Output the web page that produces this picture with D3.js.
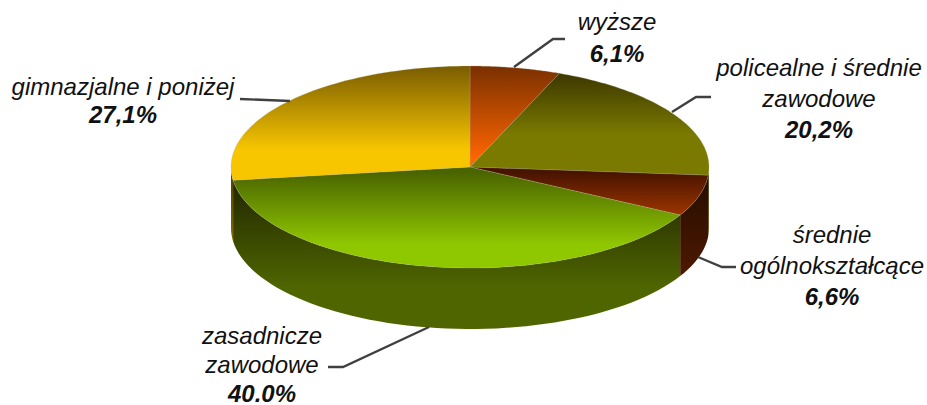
<!DOCTYPE html>
<html>
<head>
<meta charset="utf-8">
<script src="https://cdnjs.cloudflare.com/ajax/libs/d3/7.8.5/d3.min.js"></script>
<style>
  html, body { margin: 0; background: #fff; }
  text { font-family: "Liberation Sans", Arial, sans-serif; font-size: 24px; font-style: italic; fill: #111; }
  .val { font-weight: bold; }
</style>
</head>
<body>
<script>
// data
const categories = ['wyższe', 'policealne i średnie zawodowe', 'średnie ogólnokształcące', 'zasadnicze zawodowe', 'gimnazjalne i poniżej'];
const values = [6.1, 20.2, 6.6, 40.0, 27.1];
const valueLabels = ['6,1%', '20,2%', '6,6%', '40.0%', '27,1%'];

// layout
const w = 927, h = 405;
const cx = 470, cy = 167, rx = 239, ry = 101, depth = 61;

// top gradient [dark, light, y0, y1], wall gradient [dark, light]
const topFill = [
  ['#7a3000', '#ff6600', 66, 160],
  ['#3f3a00', '#7a7a00', 76, 135],
  ['#471400', '#993300', 172, 213],
  ['#4a6400', '#90c800', 172, 245],
  ['#7a5c00', '#f7c600', 66, 150]
];
const wallFill = [
  ['#7a3000', '#7a3000'],
  ['#3f3a00', '#7a7a00'],
  ['#2a0e00', '#521b00'],
  ['#242a00', '#4f6600'],
  ['#5c4600', '#a88800']
];

const labels = [
  { lines: ['wyższe'], x: 617, y: 30, lh: 32 },
  { lines: ['policealne i średnie', 'zawodowe'], x: 819, y: 76, lh: 31 },
  { lines: ['średnie', 'ogólnokształcące'], x: 832, y: 243, lh: 31 },
  { lines: ['zasadnicze', 'zawodowe'], x: 262, y: 344, lh: 29 },
  { lines: ['gimnazjalne i poniżej'], x: 123, y: 95, lh: 28 }
];
const leaders = [
  [[514, 67], [553, 39], [565, 39]],
  [[672, 112], [696, 97], [711, 97]],
  [[698, 257], [722, 267], [736, 267]],
  [[429, 327], [343, 367], [328, 367]],
  [[290, 101], [240, 99]]
];

const svg = d3.select('body').append('svg')
  .attr('width', w)
  .attr('height', h)
  .style('display', 'block');

const defs = svg.append('defs');

function addGrad(id, c0, c1, y0, y1) {
  const g = defs.append('linearGradient')
    .attr('id', id)
    .attr('gradientUnits', 'userSpaceOnUse')
    .attr('x1', 0).attr('x2', 0)
    .attr('y1', y0).attr('y2', y1);
  g.append('stop').attr('offset', 0).attr('stop-color', c0);
  g.append('stop').attr('offset', 1).attr('stop-color', c1);
}

const pie = d3.pie().sort(null).value(d => d);
const arcs = pie(values);

// angle runs clockwise from the top of the ellipse
const px = a => cx + rx * Math.sin(a);
const py = a => cy - ry * Math.cos(a);
const sample = (a0, a1) => d3.range(0, 61).map(i => a0 + (a1 - a0) * i / 60);

const topLine = d3.line().x(d => d.x).y(d => d.y);
const wallArea = d3.area().x(a => px(a)).y0(a => py(a)).y1(a => py(a) + depth);

// walls, only the front half of the rim shows
const wall = svg.append('g');
arcs.forEach((d, i) => {
  const a0 = Math.max(d.startAngle, Math.PI / 2);
  const a1 = Math.min(d.endAngle, Math.PI * 1.5);
  if (a1 <= a0) return;
  addGrad('wall' + i, wallFill[i][0], wallFill[i][1], cy + 20, cy + ry + depth - 40);
  wall.append('path')
    .attr('d', wallArea(sample(a0, a1)))
    .attr('fill', `url(#wall${i})`);
});

// top face
const face = svg.append('g');
arcs.forEach((d, i) => {
  const f = topFill[i];
  addGrad('top' + i, f[0], f[1], f[2], f[3]);
  const pts = [{ x: cx, y: cy }].concat(sample(d.startAngle, d.endAngle).map(a => ({ x: px(a), y: py(a) })));
  face.append('path')
    .attr('d', topLine(pts) + 'Z')
    .attr('fill', `url(#top${i})`)
    .attr('stroke', '#b5b58c')
    .attr('stroke-opacity', 0.45)
    .attr('stroke-width', 0.6);
});

// leader lines
svg.append('g').selectAll('path')
  .data(leaders)
  .enter()
  .append('path')
  .attr('d', d3.line())
  .attr('fill', 'none')
  .attr('stroke', '#404040')
  .attr('stroke-width', 2.4);

// labels
labels.forEach((l, i) => {
  const t = svg.append('text').attr('text-anchor', 'middle');
  l.lines.forEach((s, j) => {
    t.append('tspan').attr('x', l.x).attr('y', l.y + j * l.lh).text(s);
  });
  t.append('tspan')
    .attr('class', 'val')
    .attr('x', l.x)
    .attr('y', l.y + l.lines.length * l.lh)
    .text(valueLabels[i]);
});
</script>
</body>
</html>
